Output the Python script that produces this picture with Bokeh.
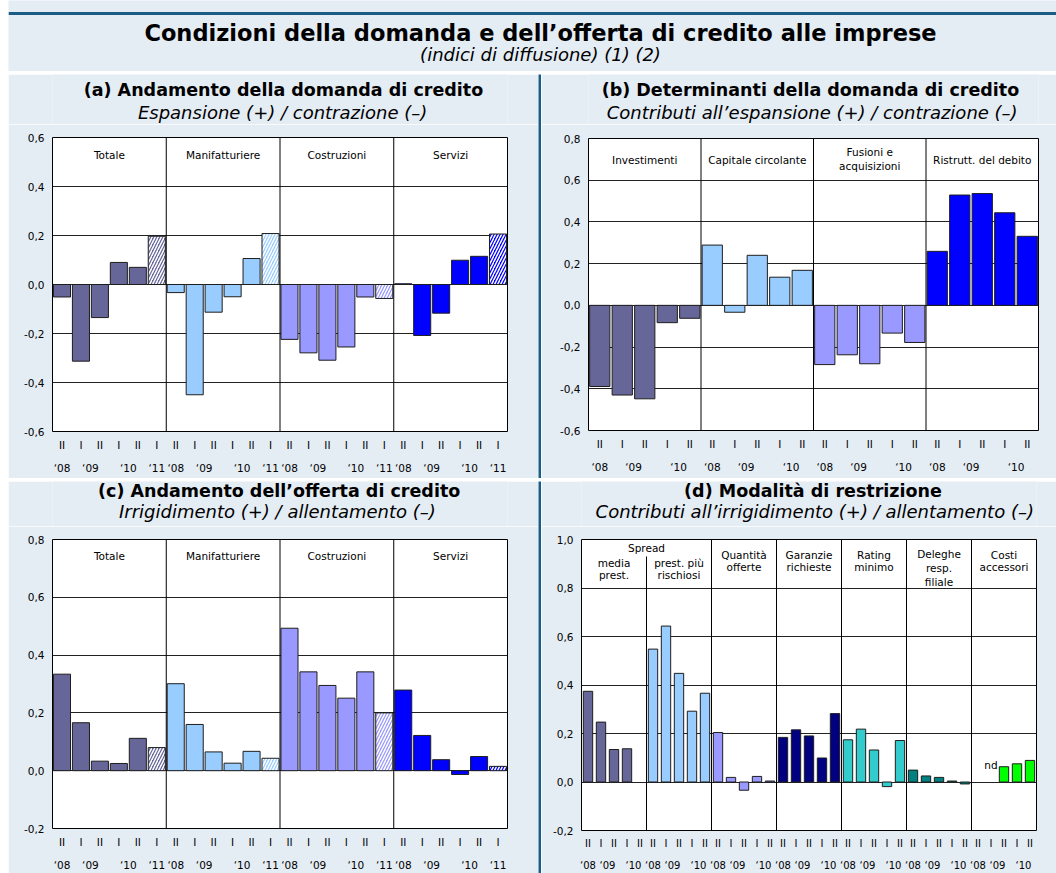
import math
from bokeh.plotting import figure
from bokeh.models import (ColumnDataSource, FixedTicker, LinearAxis, Range1d, Span, Label,
                          CustomJSTickFormatter)
from bokeh.layouts import column, row
from bokeh.embed import file_html
from bokeh.resources import INLINE
from bokeh.core.properties import value

# ---------------------------------------------------------------- data
main_title = "Condizioni della domanda e dell’offerta di credito alle imprese"
main_subtitle = "(indici di diffusione) (1) (2)"

# half-year periods: (semester, year)
periods_6 = [("II", "‘08"), ("I", "‘09"), ("II", "‘09"), ("I", "‘10"), ("II", "‘10"), ("I", "‘11")]
periods_5 = [("II", "‘08"), ("I", "‘09"), ("II", "‘09"), ("I", "‘10"), ("II", "‘10")]
expected_6 = [False, False, False, False, False, True]   # last half-year: hatched bars

# (a)
a_title = "(a) Andamento della domanda di credito"
a_subtitle = "Espansione (+) / contrazione (–)"
a_groups = ["Totale", "Manifatturiere", "Costruzioni", "Servizi"]
a_totale = [-0.051, -0.313, -0.135, 0.090, 0.070, 0.197]
a_manif = [-0.033, -0.450, -0.113, -0.050, 0.106, 0.208]
a_costr = [-0.224, -0.279, -0.309, -0.255, -0.051, -0.057]
a_serv = [0.003, -0.208, -0.117, 0.099, 0.115, 0.206]
a_yticks = [-0.6, -0.4, -0.2, 0.0, 0.2, 0.4, 0.6]

# (b)
b_title = "(b) Determinanti della domanda di credito"
b_subtitle = "Contributi all’espansione (+) / contrazione (–)"
b_groups = [["Investimenti"], ["Capitale circolante"], ["Fusioni e", "acquisizioni"], ["Ristrutt. del debito"]]
b_invest = [-0.389, -0.430, -0.448, -0.083, -0.062]
b_capit = [0.289, -0.033, 0.240, 0.135, 0.168]
b_fusioni = [-0.284, -0.237, -0.280, -0.133, -0.178]
b_ristr = [0.259, 0.529, 0.536, 0.444, 0.331]
b_yticks = [-0.6, -0.4, -0.2, 0.0, 0.2, 0.4, 0.6, 0.8]

# (c)
c_title = "(c) Andamento dell’offerta di credito"
c_subtitle = "Irrigidimento (+) / allentamento (–)"
c_groups = ["Totale", "Manifatturiere", "Costruzioni", "Servizi"]
c_totale = [0.334, 0.166, 0.033, 0.025, 0.112, 0.080]
c_manif = [0.301, 0.160, 0.065, 0.026, 0.067, 0.043]
c_costr = [0.493, 0.342, 0.295, 0.251, 0.342, 0.200]
c_serv = [0.279, 0.122, 0.038, -0.013, 0.049, 0.015]
c_yticks = [-0.2, 0.0, 0.2, 0.4, 0.6, 0.8]

# (d)
d_title = "(d) Modalità di restrizione"
d_subtitle = "Contributi all’irrigidimento (+) / allentamento (–)"
d_spread_label = "Spread"
d_groups = [["media", "prest."], ["prest. più", "rischiosi"], ["Quantità", "offerte"],
            ["Garanzie", "richieste"], ["Rating", "minimo"], ["Deleghe", "resp.", "filiale"],
            ["Costi", "accessori"]]
d_media = [0.374, 0.247, 0.134, 0.137, None]
d_rischiosi = [0.548, 0.643, 0.448, 0.292, 0.366]
d_quantita = [0.204, 0.019, -0.034, 0.023, 0.004]
d_garanzie = [0.184, 0.215, 0.190, 0.099, 0.282]
d_rating = [0.174, 0.218, 0.132, -0.019, 0.171]
d_deleghe = [0.049, 0.025, 0.019, 0.004, -0.008]
d_costi = [None, None, 0.063, 0.075, 0.089]
d_missing_label = "nd"
d_yticks = [-0.2, 0.0, 0.2, 0.4, 0.6, 0.8, 1.0]

# colours
C_TOT, C_MAN, C_COS, C_SER = "#666699", "#99CCFF", "#9999FF", "#0000FF"
C_GAR, C_RAT, C_DEL, C_COSTI = "#000080", "#33CCCC", "#008080", "#00FF00"

BG = "#E4ECF4"
RULE = "#1A5C86"
FONT = "DejaVu Sans"


# ---------------------------------------------------------------- helpers
def style_axis(ax, standoff, size):
    ax.axis_line_color = None
    ax.major_tick_line_color = None
    ax.minor_tick_line_color = None
    ax.major_tick_out = 0
    ax.major_tick_in = 0
    ax.major_label_standoff = standoff
    ax.major_label_text_font = FONT
    ax.major_label_text_font_size = size
    ax.major_label_text_color = "black"


def label_formatter(pos, labs):
    return CustomJSTickFormatter(args=dict(pos=pos, labs=labs), code="""
        for (let i = 0; i < pos.length; i++) {
            if (Math.abs(pos[i] - tick) < 1e-6) { return labs[i]; }
        }
        return "";
    """)


def bar_panel(width, height, borders, yrange, yticks, periods, series, colors, bar_w,
              expected=None, s1=7, s2=8, xsize="10.5px"):
    ng, npd = len(series), len(periods)
    p = figure(width=width, height=height, output_backend="svg", toolbar_location=None,
               x_range=Range1d(-0.5, ng * npd - 0.5), y_range=Range1d(*yrange),
               background_fill_color="white", border_fill_color=BG,
               outline_line_color="black", outline_line_width=1, min_border=0)
    p.title.visible = False
    (p.min_border_left, p.min_border_right, p.min_border_top, p.min_border_bottom) = borders

    xs, tops, fills, hps = [], [], [], []
    for g, vals in enumerate(series):
        for i, v in enumerate(vals):
            if v is None:
                continue
            xs.append(g * npd + i)
            tops.append(v)
            fills.append(colors[g])
            hps.append("/" if (expected and expected[i]) else " ")
    src = ColumnDataSource(dict(x=xs, top=tops, fill=fills, hp=hps))
    p.vbar(x="x", top="top", bottom=0, width=bar_w, source=src, fill_color="fill",
           line_color="#1e1e1e", line_width=1, hatch_pattern="hp", hatch_color="white",
           hatch_weight=1.5, hatch_scale=6)

    p.xgrid.visible = False
    p.ygrid.ticker = FixedTicker(ticks=yticks, minor_ticks=[])
    p.ygrid.grid_line_color = "#222222"
    p.ygrid.grid_line_width = 1

    ya = p.yaxis[0]
    ya.ticker = FixedTicker(ticks=yticks, minor_ticks=[])
    ya.formatter = CustomJSTickFormatter(code="return tick.toFixed(1).replace('.', ',');")
    style_axis(ya, 8, "10.5px")

    # semester labels
    pos1, lab1 = [], []
    for g in range(ng):
        for i, (sem, yr) in enumerate(periods):
            pos1.append(g * npd + i)
            lab1.append(sem)
    xa = p.xaxis[0]
    xa.ticker = FixedTicker(ticks=pos1, minor_ticks=[])
    xa.formatter = label_formatter(pos1, lab1)
    style_axis(xa, s1, xsize)

    # year labels centred on the half-years of that year
    idx = {}
    for i, (sem, yr) in enumerate(periods):
        idx.setdefault(yr, []).append(i)
    pos2, lab2 = [], []
    for g in range(ng):
        for yr, ii in idx.items():
            pos2.append(g * npd + sum(ii) / len(ii))
            lab2.append(yr)
    xa2 = LinearAxis(ticker=FixedTicker(ticks=pos2, minor_ticks=[]),
                     formatter=label_formatter(pos2, lab2))
    style_axis(xa2, s2, xsize)
    p.add_layout(xa2, "below")
    return p


def separators(p, ng, npd, skip=()):
    for g in range(1, ng):
        if g in skip:
            continue
        p.add_layout(Span(location=g * npd - 0.5, dimension="height",
                          line_color="black", line_width=1))


def group_texts(p, ng, npd, texts, ys, size="10.5px", special=None):
    xs, yy, tt = [], [], []
    for g in range(ng):
        lines = texts[g] if isinstance(texts[g], list) else [texts[g]]
        yrow = special[g] if (special and g in special) else ys[len(lines)]
        for k, line in enumerate(lines):
            xs.append(g * npd + (npd - 1) / 2)
            yy.append(yrow[k])
            tt.append(line)
    p.text(x=xs, y=yy, text=tt, text_font=value(FONT), text_font_size=value(size),
           text_align="center", text_baseline="middle", text_color="black")


def block(w, h, color):
    f = figure(width=w, height=h, x_axis_location=None, y_axis_location=None,
               toolbar_location=None, output_backend="svg", min_border=0,
               background_fill_color=color, border_fill_color=color, outline_line_color=None)
    f.grid.visible = False
    f.title.visible = False
    return f


def text_strip(w, h, x0, y0):
    """A plain strip whose coordinates are the page pixels (y downwards)."""
    f = figure(width=w, height=h, x_range=Range1d(x0, x0 + w), y_range=Range1d(y0 + h, y0),
               x_axis_location=None, y_axis_location=None, toolbar_location=None,
               output_backend="svg", min_border=0, background_fill_color=BG,
               border_fill_color=BG, outline_line_color=None)
    f.grid.visible = False
    f.title.visible = False
    return f


def add_label(f, x, y, text, size, style):
    f.add_layout(Label(x=x, y=y, text=text, text_align="center", text_baseline="middle",
                       text_font=FONT, text_font_size=size, text_font_style=style,
                       text_color="black"))


def panel_titles(w, h, x0, y0, title, subtitle, tpos, spos):
    f = text_strip(w, h, x0, y0)
    add_label(f, tpos[0], tpos[1], title, "17.5px", "bold")
    add_label(f, spos[0], spos[1], subtitle, "18px", "italic")
    return f


# ---------------------------------------------------------------- header
hdr = text_strip(1048, 71, 8, 0)
hdr.quad(left=[8], right=[1056], top=[11.5], bottom=[14.5], fill_color=RULE, line_color=None)
add_label(hdr, 540, 32, main_title, "22.5px", "bold")
add_label(hdr, 540, 54, main_subtitle, "18px", "italic")

# ---------------------------------------------------------------- panel a
ta = panel_titles(530, 50, 8, 74, a_title, a_subtitle, (277, 89), (276, 112))
pa = bar_panel(530, 354, (44, 31, 13, 47), (-0.6, 0.6), a_yticks, periods_6,
               [a_totale, a_manif, a_costr, a_serv], [C_TOT, C_MAN, C_COS, C_SER], 0.9,
               expected=expected_6, s1=7, s2=8)
separators(pa, 4, 6)
group_texts(pa, 4, 6, a_groups, {1: [0.527]})

# ---------------------------------------------------------------- panel b
tb = panel_titles(515, 50, 541, 74, b_title, b_subtitle, (795, 89), (797, 112))
pb = bar_panel(515, 354, (47, 18, 14, 48), (-0.6, 0.8), b_yticks, periods_5,
               [b_invest, b_capit, b_fusioni, b_ristr], [C_TOT, C_MAN, C_COS, C_SER], 0.9,
               s1=7, s2=8)
separators(pb, 4, 5)
group_texts(pb, 4, 5, b_groups, {1: [0.695], 2: [0.733, 0.666]})

# ---------------------------------------------------------------- panel c
tc = panel_titles(530, 45, 8, 481, c_title, c_subtitle, (272, 490), (270, 511))
pc = bar_panel(530, 347, (44, 31, 13, 42), (-0.2, 0.8), c_yticks, periods_6,
               [c_totale, c_manif, c_costr, c_serv], [C_TOT, C_MAN, C_COS, C_SER], 0.9,
               expected=expected_6, s1=7, s2=8)
separators(pc, 4, 6)
group_texts(pc, 4, 6, c_groups, {1: [0.742]})

# ---------------------------------------------------------------- panel d
td = panel_titles(515, 45, 541, 481, d_title, d_subtitle, (803, 490), (805, 511))
pd_ = bar_panel(515, 347, (40, 20, 13, 42), (-0.2, 1.0), d_yticks, periods_5,
                [d_media, d_rischiosi, d_quantita, d_garanzie, d_rating, d_deleghe, d_costi],
                [C_TOT, C_MAN, C_COS, C_GAR, C_RAT, C_DEL, C_COSTI], 0.72,
                s1=7, s2=8, xsize="10px")
separators(pd_, 7, 5, skip=(1,))
pd_.segment(x0=[5 - 0.5], y0=[-0.2], x1=[5 - 0.5], y1=[0.93], line_color="black", line_width=1)
group_texts(pd_, 7, 5, d_groups, {2: [0.938, 0.885], 3: [0.942, 0.881, 0.823]},
            special={0: [0.905, 0.852], 1: [0.905, 0.852]})
# "Spread" spans the first two groups
pd_.text(x=[5 - 0.5], y=[0.967], text=[d_spread_label], text_font=value(FONT),
         text_font_size=value("10.5px"), text_align="center", text_baseline="middle")
pd_.text(x=[6 * 5 + 1], y=[0.07], text=[d_missing_label], text_font=value(FONT),
         text_font_size=value("10.5px"), text_align="center", text_baseline="middle")

# ---------------------------------------------------------------- layout
main = column(
    hdr,
    block(1048, 3, RULE),
    row(column(ta, pa), block(3, 404, RULE), column(tb, pb)),
    block(1048, 3, RULE),
    row(column(tc, pc), block(3, 392, RULE), column(td, pd_)),
)
layout = row(block(8, 873, "white"), main)

open("out.html", "w").write(file_html(layout, INLINE))
